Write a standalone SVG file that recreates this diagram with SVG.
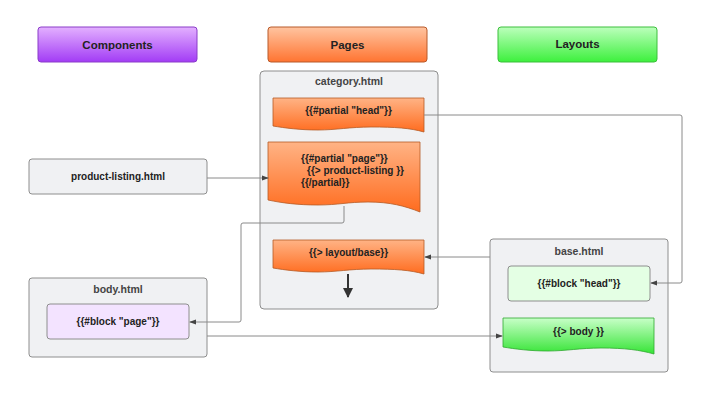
<svg xmlns="http://www.w3.org/2000/svg" width="707" height="400" viewBox="0 0 707 400">
  <defs>
    <linearGradient id="gPurple" x1="0" y1="0" x2="0" y2="1">
      <stop offset="0" stop-color="#e3b0ff"/>
      <stop offset="1" stop-color="#a23cf5"/>
    </linearGradient>
    <linearGradient id="gOrange" x1="0" y1="0" x2="0" y2="1">
      <stop offset="0" stop-color="#ffc4a0"/>
      <stop offset="1" stop-color="#ff7431"/>
    </linearGradient>
    <linearGradient id="gGreen" x1="0" y1="0" x2="0" y2="1">
      <stop offset="0" stop-color="#bcffbc"/>
      <stop offset="1" stop-color="#3df03d"/>
    </linearGradient>
    <linearGradient id="gPartial" x1="0" y1="0" x2="0" y2="1">
      <stop offset="0" stop-color="#ffb385"/>
      <stop offset="1" stop-color="#ff6c1f"/>
    </linearGradient>
    <linearGradient id="gBody" x1="0" y1="0" x2="0" y2="1">
      <stop offset="0" stop-color="#c8ffc8"/>
      <stop offset="1" stop-color="#36e436"/>
    </linearGradient>
    <marker id="arr" viewBox="0 0 8 8" refX="7" refY="4" markerWidth="7" markerHeight="7" markerUnits="userSpaceOnUse" orient="auto">
      <path d="M0,1 L8,4 L0,7 z" fill="#444"/>
    </marker>
    <marker id="arrBig" viewBox="0 0 10 10" refX="9" refY="5" markerWidth="10" markerHeight="10" markerUnits="userSpaceOnUse" orient="auto">
      <path d="M0,0 L10,5 L0,10 z" fill="#333"/>
    </marker>
  </defs>
  <style>
    text { font-family: "Liberation Sans", Arial, sans-serif; font-weight: bold; }
    .hdr { font-size: 11.5px; fill: #222; text-anchor: middle; }
    .lbl { font-size: 10.5px; fill: #444; text-anchor: middle; }
    .t { font-size: 10px; fill: #222; }
    .c { text-anchor: middle; }
    .box { fill: #f0f1f3; stroke: #8e8e8e; stroke-width: 1; }
    .part { fill: url(#gPartial); stroke: #b55a24; stroke-width: 0.8; }
    .conn { fill: none; stroke: #8a8a8a; stroke-width: 1; marker-end: url(#arr); }
  </style>
  <rect width="707" height="400" fill="#ffffff"/>

  <!-- column headers -->
  <g id="components">
    <rect x="38" y="27" width="159" height="35" rx="3" fill="url(#gPurple)" stroke="#8a3cc8" stroke-width="1"/>
    <text class="hdr" x="117.5" y="48.5">Components</text>
  </g>
  <g id="pages">
    <rect x="268" y="27" width="159" height="35" rx="3" fill="url(#gOrange)" stroke="#b85a2a" stroke-width="1"/>
    <text class="hdr" x="347.5" y="48.5">Pages</text>
  </g>
  <g id="layouts">
    <rect x="498" y="27" width="159" height="35" rx="3" fill="url(#gGreen)" stroke="#3cbf3c" stroke-width="1"/>
    <text class="hdr" x="577.5" y="47.5">Layouts</text>
  </g>

  <!-- category.html page -->
  <g id="category">
    <rect class="box" x="260" y="71" width="178" height="238" rx="4"/>
    <text class="lbl" x="349" y="85">category.html</text>
  </g>
  <g id="partial-head">
    <path class="part" d="M273,98 H424 V132 C410,128 395,127 371,127 C350,127 336,130 318,130 C300,130 285,128 273,126 Z"/>
    <text class="t c" x="348.5" y="114">{{#partial "head"}}</text>
  </g>
  <g id="partial-page">
    <path class="part" d="M268,142 H420 V212 C405,206 390,202 368,202 C348,202 338,205 318,205 C298,205 282,203 268,200 Z"/>
    <text class="t" x="301" y="162">{{#partial "page"}}</text>
    <text class="t" x="307" y="174">{{&gt; product-listing }}</text>
    <text class="t" x="301" y="186">{{/partial}}</text>
  </g>
  <g id="layout-base">
    <path class="part" d="M273,240 H424 V274 C410,270 395,269 371,269 C350,269 336,272 318,272 C300,272 285,270 273,268 Z"/>
    <text class="t c" x="348.5" y="256">{{&gt; layout/base}}</text>
  </g>

  <!-- components -->
  <g id="product-listing">
    <rect class="box" x="29" y="159" width="178" height="35" rx="3"/>
    <text class="t c" x="118" y="180">product-listing.html</text>
  </g>
  <g id="body">
    <rect class="box" x="29" y="278" width="178" height="79" rx="3"/>
    <text class="lbl" x="118" y="293">body.html</text>
  </g>
  <g id="block-page">
    <rect x="47" y="304" width="142" height="35" rx="3" fill="#f3e3ff" stroke="#8e8e8e" stroke-width="1"/>
    <text class="t c" x="118" y="325">{{#block "page"}}</text>
  </g>

  <!-- layouts -->
  <g id="base">
    <rect class="box" x="490" y="239" width="178" height="133" rx="3"/>
    <text class="lbl" x="579" y="255">base.html</text>
  </g>
  <g id="block-head">
    <rect x="508" y="266" width="142" height="35" rx="3" fill="#e4ffe4" stroke="#8e8e8e" stroke-width="1"/>
    <text class="t c" x="579" y="287">{{#block "head"}}</text>
  </g>
  <g id="body-partial">
    <path d="M503,318 H654 V354 C640,350 625,348 601,348 C580,348 566,351 548,351 C530,351 515,349 503,347 Z" fill="url(#gBody)" stroke="#2fa82f" stroke-width="0.8"/>
    <text class="t c" x="578.5" y="335">{{&gt; body }}</text>
  </g>

  <!-- connectors -->
  <g id="connectors">
    <path class="conn" d="M207,178 H268"/>
    <path class="conn" d="M344,206 V221 Q344,223 342,223 H243 Q241,223 241,225 V320 Q241,322 239,322 H190"/>
    <path class="conn" d="M424,115 H680 Q682,115 682,117 V281 Q682,283 680,283 H651"/>
    <path class="conn" d="M490,257 H425"/>
    <path class="conn" d="M207,336 H502"/>
    <path d="M348,274 V297" fill="none" stroke="#333" stroke-width="2" marker-end="url(#arrBig)"/>
  </g>
</svg>
